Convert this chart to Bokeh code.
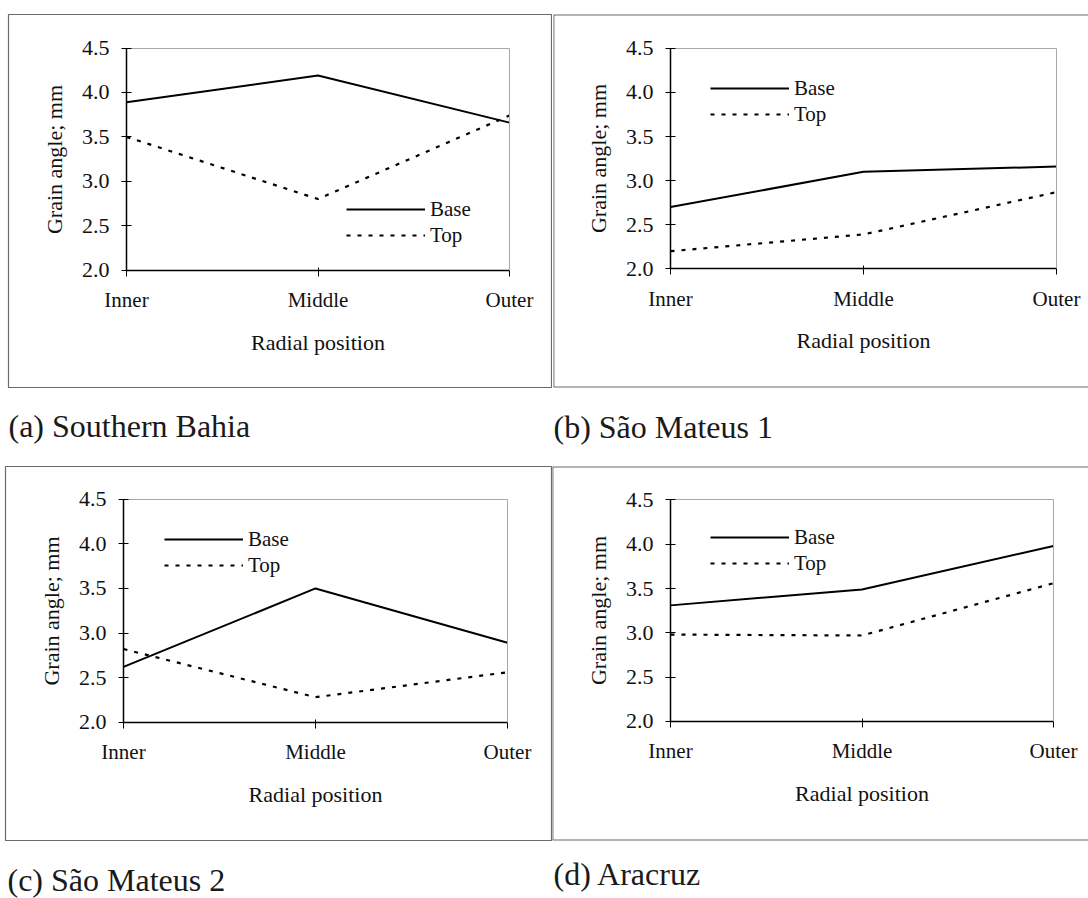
from bokeh.plotting import figure
from bokeh.models import (Range1d, FixedTicker, PrintfTickFormatter, Legend, LegendItem,
                          LinearAxis, Title)
from bokeh.layouts import column, row
from bokeh.embed import file_html
from bokeh.resources import INLINE

# ---------------- data ----------------
positions = ["Inner", "Middle", "Outer"]
y_ticks = [2.0, 2.5, 3.0, 3.5, 4.0, 4.5]
series_names = ["Base", "Top"]

southern_bahia_base = [3.89, 4.19, 3.66]
southern_bahia_top = [3.50, 2.80, 3.74]
sao_mateus1_base = [2.70, 3.10, 3.16]
sao_mateus1_top = [2.20, 2.39, 2.87]
sao_mateus2_base = [2.62, 3.50, 2.89]
sao_mateus2_top = [2.82, 2.28, 2.56]
aracruz_base = [3.31, 3.49, 3.98]
aracruz_top = [2.98, 2.97, 3.56]

captions = ["(a) Southern Bahia", "(b) São Mateus 1", "(c) São Mateus 2", "(d) Aracruz"]

FONT = "Liberation Serif"
BOX_COLOR = "#6a6a6a"


def span_range(d0, d1, p0, p1, f0, f1):
    """Range so that value d0 sits at pixel p0 and d1 at pixel p1 in a frame f0..f1."""
    s = (d1 - d0) / (p1 - p0)
    return Range1d(d0 + (f0 - p0) * s, d0 + (f1 - p0) * s)


def plain_axis(loc, bnds, color, width):
    return LinearAxis(fixed_location=loc, bounds=bnds, ticker=FixedTicker(ticks=[]),
                      axis_line_color=color, axis_line_width=width,
                      major_tick_line_color=None, minor_tick_line_color=None,
                      major_label_text_font_size="0px")


def panel(base, top, caption, W, H, box, plot_area, cap_offset, cap_gap, leg_xy,
          open_right=False):
    bl, bt, br, bb = box          # outer box (frame) in canvas px
    pl, pt, pr, pb = plot_area    # chart area in canvas px
    xmax = len(positions) - 1
    xr = span_range(0, xmax, pl, pr, bl, br)
    yr = span_range(y_ticks[0], y_ticks[-1], pb, pt, bb, bt)
    p = figure(width=W, height=H, x_range=xr, y_range=yr,
               output_backend="svg", toolbar_location=None,
               min_border_left=bl, min_border_right=W - br,
               min_border_top=bt, min_border_bottom=H - bb)
    xa, ya = p.xaxis[0], p.yaxis[0]
    p.background_fill_color = "white"
    p.border_fill_color = "white"
    p.xgrid.visible = False
    p.ygrid.visible = False

    xs = list(range(len(positions)))
    r1 = p.line(xs, base, line_color="black", line_width=2)
    r2 = p.line(xs, top, line_color="black", line_width=2.2, line_dash="4 7")

    xa.fixed_location = y_ticks[0]
    ya.fixed_location = 0
    xa.bounds = (0, xmax)
    ya.bounds = (y_ticks[0], y_ticks[-1])
    xa.ticker = FixedTicker(ticks=xs)
    xa.major_label_overrides = {i: n for i, n in enumerate(positions)}
    ya.ticker = FixedTicker(ticks=y_ticks)
    ya.formatter = PrintfTickFormatter(format="%.1f")
    xa.axis_label = "Radial position"
    ya.axis_label = "Grain angle; mm"
    for ax in (xa, ya):
        ax.axis_line_color = "black"
        ax.axis_line_width = 1.5
        ax.major_tick_line_color = "black"
        ax.major_tick_line_width = 1
        ax.minor_tick_line_color = None
        ax.major_label_text_font = FONT
        ax.major_label_text_color = "#111111"
        ax.axis_label_text_font = FONT
        ax.axis_label_text_font_style = "normal"
        ax.axis_label_text_color = "#111111"
    xa.major_label_text_font_size = "21px"
    ya.major_label_text_font_size = "22px"
    xa.axis_label_text_font_size = "22px"
    ya.axis_label_text_font_size = "22px"
    xa.major_tick_in = 3
    xa.major_tick_out = 6
    xa.major_label_standoff = 12
    xa.axis_label_standoff = 14
    ya.major_tick_in = 5
    ya.major_tick_out = 5
    ya.major_label_standoff = 12
    ya.axis_label_standoff = 12

    # light grey top and right edges of the chart area
    p.add_layout(plain_axis(y_ticks[-1], (0, xmax), "#a8a8a8", 1), "above")
    p.add_layout(plain_axis(xmax, (y_ticks[0], y_ticks[-1]), "#a8a8a8", 1), "right")

    if open_right:
        # box continues past the right edge of the page: draw only left/top/bottom
        p.outline_line_color = None
        p.add_layout(plain_axis(xr.start, (yr.start, yr.end), BOX_COLOR, 1.8), "left")
        p.add_layout(plain_axis(yr.end, (xr.start, xr.end), BOX_COLOR, 1.8), "above")
        p.add_layout(plain_axis(yr.start, (xr.start, xr.end), BOX_COLOR, 1.8), "below")
    else:
        p.outline_line_color = BOX_COLOR
        p.outline_line_width = 1.2

    legend = Legend(items=[LegendItem(label=series_names[0], renderers=[r1]),
                           LegendItem(label=series_names[1], renderers=[r2])],
                    location=leg_xy, padding=0, spacing=0, margin=0,
                    glyph_width=79, glyph_height=26, label_height=26,
                    label_standoff=5, label_text_font=FONT,
                    label_text_font_size="21px", label_text_color="#111111",
                    background_fill_alpha=0, border_line_color=None)
    p.add_layout(legend, "center")

    # spacer between the box and its caption
    p.add_layout(Title(text=" ", standoff=cap_gap, text_font_size="1px"), "below")
    p.add_layout(Title(text=caption, align="left", offset=cap_offset,
                       standoff=0, text_font=FONT,
                       text_font_size="32px", text_font_style="normal",
                       text_color="#1a1a1a"), "below")
    return p


pa = panel(southern_bahia_base, southern_bahia_top, captions[0], 552, 447,
           (8, 9, 552, 387), (126, 43, 509, 268), 0, 15, (338, 139))
pb = panel(sao_mateus1_base, sao_mateus1_top, captions[1], 536, 447,
           (1, 14, 536, 388), (118, 48, 504, 269), 0, 16, (157, 260), open_right=True)
pc = panel(sao_mateus2_base, sao_mateus2_top, captions[2], 552, 451,
           (5, 17, 552, 393), (123, 50, 507, 274), 2, 16, (159, 262))
pd = panel(aracruz_base, aracruz_top, captions[3], 536, 451,
           (0, 19, 536, 399), (118, 53, 501, 278), 1, 10, (158, 264), open_right=True)

layout = column(row(pa, pb, spacing=0), row(pc, pd, spacing=0), spacing=0)

open("out.html", "w").write(file_html(layout, INLINE))
